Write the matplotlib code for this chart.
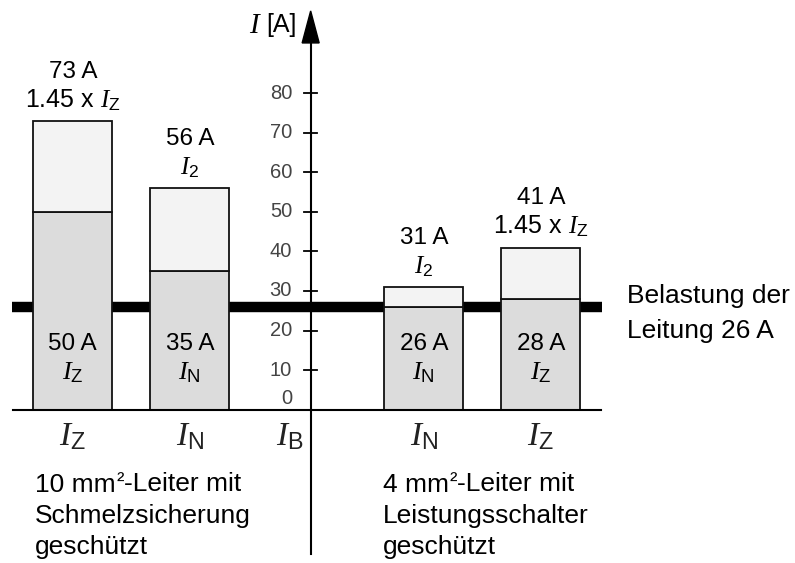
import matplotlib.pyplot as plt

plt.rcParams['font.family'] = ['Liberation Sans', 'DejaVu Sans']
plt.rcParams['mathtext.fontset'] = 'custom'
plt.rcParams['mathtext.it'] = 'Liberation Serif:italic'
plt.rcParams['mathtext.rm'] = 'Liberation Sans'

# Strombelastbarkeit und Schutzorgane zweier Leiter
pos = [0, 1, 3, 4]
lower = [50, 35, 26, 28]          # I_Z bzw. I_N
upper = [73, 56, 31, 41]          # 1.45 x I_Z bzw. I_2
lower_names = [r'$I_\mathrm{Z}$', r'$I_\mathrm{N}$', r'$I_\mathrm{N}$', r'$I_\mathrm{Z}$']
upper_names = [r'1.45 x $I_\mathrm{Z}$', r'$I_2$', r'$I_2$', r'1.45 x $I_\mathrm{Z}$']
cat_labels = [r'$I_\mathrm{Z}$', r'$I_\mathrm{N}$', r'$I_\mathrm{B}$', r'$I_\mathrm{N}$', r'$I_\mathrm{Z}$']
cat_pos = [0, 1, 1.856, 3, 4]
load = 26
yticks = [10, 20, 30, 40, 50, 60, 70, 80]

axis_x = 2.033
w = 0.675

fig = plt.figure(figsize=(7.95, 5.63), dpi=100)
ax = fig.add_axes([0, 0, 1, 1])
ax.set_xlim(-0.6222, 6.1726)
ax.set_ylim(-38.86, 103.67)
ax.axis('off')

# Balken: unterer Teil dunkler, oberer Teil hell
ax.bar(pos, lower, width=w, color='#dcdcdc', edgecolor='#111111', linewidth=1.3, zorder=3)
ax.bar(pos, [u - l for u, l in zip(upper, lower)], bottom=lower, width=w,
       color='#f3f3f3', edgecolor='#111111', linewidth=1.3, zorder=3)

# Belastung der Leitung
ax.plot([-0.522, 4.526], [load, load], color='black', linewidth=7.5,
        solid_capstyle='butt', zorder=2)
ax.text(4.734, 26.9, 'Belastung der', fontsize=19, va='baseline')
ax.text(4.734, 18.0, 'Leitung %d A' % load, fontsize=19, va='baseline')

# Grundlinie und Strom-Achse
ax.plot([-0.514, 4.517], [0, 0], color='black', linewidth=1.5, zorder=4)
ax.plot([axis_x, axis_x], [-36.6, 93], color='black', linewidth=1.5, zorder=4)
ax.fill([axis_x - 0.0727, axis_x + 0.0727, axis_x], [92.8, 92.8, 100.9],
        color='black', zorder=4)
for t in yticks:
    ax.plot([axis_x - 0.057, axis_x + 0.057], [t, t], color='black', linewidth=1.3, zorder=4)
    ax.text(1.874, t, str(t), fontsize=14.5, color='#444444', ha='right', va='center')
ax.text(1.874, 2.9, '0', fontsize=14.5, color='#444444', ha='right', va='center')
ax.text(1.914, 97.3, '[A]', fontsize=18, ha='right', va='center')
ax.text(1.62, 97.3, r'$I$', fontsize=21, ha='right', va='center')

# Beschriftungen der Balken
for x, lo, up, ln, un in zip(pos, lower, upper, lower_names, upper_names):
    ax.text(x, 15.1, '%d A' % lo, fontsize=17.5, ha='center', va='baseline', zorder=5)
    ax.text(x, 7.5, ln, fontsize=19, ha='center', va='baseline', zorder=5)
    ax.annotate('%d A' % up, (x, up), xytext=(0, 31), textcoords='offset points',
                fontsize=17.5, ha='center', va='baseline')
    ax.annotate(un, (x, up), xytext=(0, 10), textcoords='offset points',
                fontsize=18, ha='center', va='baseline')

for x, s in zip(cat_pos, cat_labels):
    ax.text(x, -9.0, s, fontsize=24, ha='center', va='baseline', color='#222222')


def group_text(x, first, rest, lines, ys):
    # erste Zeile mit kleinem hochgestelltem "2"
    t = ax.text(x, ys[0], first, fontsize=19, va='baseline')
    sup = ax.annotate('²', xy=(1, 0), xycoords=t, xytext=(0.3, 19 * 0.21 + 2),
                      textcoords='offset points', fontsize=16, va='baseline')
    ax.annotate(rest, xy=(1, 0), xycoords=sup, xytext=(0.3, 16 * 0.21 - 2),
                textcoords='offset points', fontsize=19, va='baseline')
    for s, y in zip(lines, ys[1:]):
        ax.text(x, y, s, fontsize=19, va='baseline')


rows = [-20.8, -28.66, -36.5]
group_text(-0.323, '10 mm', '-Leiter mit', ['Schmelzsicherung', 'geschützt'], rows)
group_text(2.649, '4 mm', '-Leiter mit', ['Leistungsschalter', 'geschützt'], rows)

fig.savefig('out.png', dpi=100)
